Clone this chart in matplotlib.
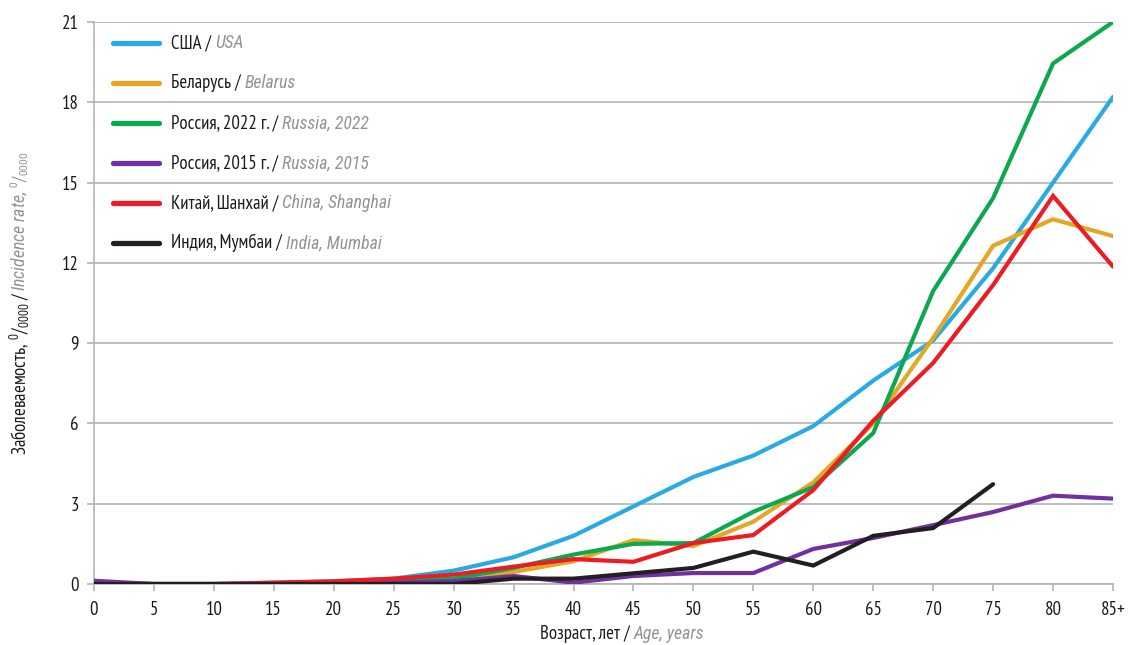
import matplotlib
matplotlib.use("Agg")
import matplotlib.pyplot as plt
from matplotlib.lines import Line2D

REG = 'PT Sans Narrow'
ITA = 'Roboto Condensed'
plt.rcParams['font.family'] = [REG, 'DejaVu Sans']
plt.rcParams['mathtext.fontset'] = 'custom'
plt.rcParams['mathtext.rm'] = REG
plt.rcParams['mathtext.it'] = ITA + ':italic'
plt.rcParams['mathtext.default'] = 'rm'

# Age groups (x axis)
ages = ["0", "5", "10", "15", "20", "25", "30", "35", "40", "45",
        "50", "55", "60", "65", "70", "75", "80", "85+"]

# Incidence per 100 000, by age group
usa = [0.05, 0.0, 0.0, 0.05, 0.1, 0.2, 0.5, 1.0, 1.8, 2.9,
       4.0, 4.8, 5.9, 7.6, 9.1, 11.8, 15.0, 18.2]
belarus = [0.0, 0.0, 0.0, 0.0, 0.05, 0.1, 0.15, 0.45, 0.85, 1.64,
           1.42, 2.33, 3.8, 6.0, 9.2, 12.64, 13.63, 13.0]
russia_2022 = [0.0, 0.0, 0.0, 0.0, 0.05, 0.1, 0.2, 0.6, 1.1, 1.5,
               1.53, 2.7, 3.62, 5.64, 10.95, 14.42, 19.45, 21.0]
russia_2015 = [0.12, 0.0, 0.0, 0.0, 0.0, 0.05, 0.1, 0.3, 0.05, 0.3,
               0.41, 0.41, 1.31, 1.72, 2.2, 2.69, 3.3, 3.19]
china_shanghai = [0.0, 0.0, 0.0, 0.05, 0.1, 0.2, 0.35, 0.65, 0.93, 0.83,
                  1.53, 1.83, 3.51, 6.1, 8.26, 11.17, 14.5, 11.86]
india_mumbai = [0.0, 0.0, 0.0, 0.0, 0.0, 0.0, 0.0, 0.2, 0.2, 0.4,
                0.6, 1.21, 0.69, 1.8, 2.09, 3.73]

series = [
    ("США / ", "USA", usa, "#29abe2"),
    ("Беларусь / ", "Belarus", belarus, "#e2a825"),
    ("Россия, 2022 г. / ", "Russia, 2022", russia_2022, "#0aa84f"),
    ("Россия, 2015 г. / ", "Russia, 2015", russia_2015, "#7030a0"),
    ("Китай, Шанхай / ", "China, Shanghai", china_shanghai, "#ed1c24"),
    ("Индия, Мумбаи / ", "India, Mumbai", india_mumbai, "#231f20"),
]
draw_order = [0, 3, 4, 2, 1, 5]

GRAY = "#939393"
GRID = "#b3b3b3"
INK = "#1a1a1a"
FS = 13.5
FS_IT = 12.8

fig = plt.figure(figsize=(11.36, 6.45), dpi=100)
ax = fig.add_axes([94 / 1136, 1 - 584 / 645, (1113 - 94) / 1136, (584 - 22) / 645])

xs = list(range(len(ages)))
for i in draw_order:
    ru, en, vals, col = series[i]
    ax.plot(xs[:len(vals)], vals, color=col, lw=3.0,
            solid_capstyle='round', solid_joinstyle='miter', zorder=3 + i * 0.1)

ax.set_xlim(0, len(ages) - 1)
ax.set_ylim(0, 21)
ax.set_xticks(xs)
ax.set_xticklabels(ages)
ax.set_yticks(range(0, 22, 3))
ax.yaxis.grid(True, color=GRID, lw=1.2)
ax.set_axisbelow(True)
for s in ("top", "right"):
    ax.spines[s].set_visible(False)
for s in ("left", "bottom"):
    ax.spines[s].set_color(GRID)
    ax.spines[s].set_linewidth(1.2)
ax.tick_params(axis='both', colors=GRID, length=5, width=1.2, labelsize=FS,
               labelcolor=INK)
ax.tick_params(axis='x', pad=7)
ax.tick_params(axis='y', pad=6)

# Legend drawn as lines and two-part labels
for k, (ru, en, vals, col) in enumerate(series):
    y = 43 + 40 * k
    yf = 1 - y / 645
    fig.add_artist(Line2D([113 / 1136, 159 / 1136], [yf, yf], color=col, lw=3.8,
                          solid_capstyle='round', transform=fig.transFigure))
    t1 = fig.text(171 / 1136, yf, ru, fontsize=FS, color=INK,
                  va='center', ha='left')
    fig.canvas.draw()
    ax.annotate(en, xy=(1, 0.5), xycoords=t1, va='center', ha='left',
                fontsize=FS_IT, color=GRAY, family=ITA, style='italic')

# Axis titles
xl = fig.text(540 / 1136, 1 - 634 / 645, "Возраст, лет / ", fontsize=FS,
              color=INK, ha='left', va='center')
fig.canvas.draw()
ax.annotate("Age, years", xy=(1, 0.5), xycoords=xl, va='center', ha='left',
            fontsize=FS_IT, color=GRAY, family=ITA, style='italic')

yl = fig.text(20 / 1136, 1 - 455 / 645, r"Заболеваемость, $^{0}/_{0000}$ / ",
              fontsize=FS, color=INK, rotation=90,
              ha='center', va='bottom')
fig.canvas.draw()
ax.annotate(r"Incidence rate, $\mathit{^{0}/_{0000}}$", xy=(0.5, 1), xycoords=yl,
            va='bottom', ha='center', rotation=90,
            fontsize=FS_IT, color=GRAY, family=ITA, style='italic')

fig.savefig("out.png", dpi=100)
